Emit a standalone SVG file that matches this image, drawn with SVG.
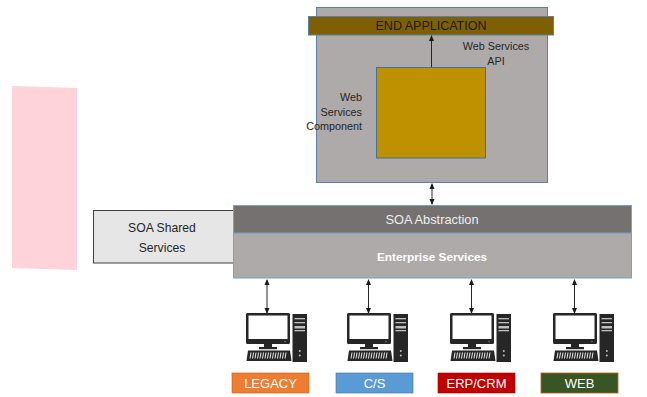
<svg xmlns="http://www.w3.org/2000/svg" xmlns:xlink="http://www.w3.org/1999/xlink" width="647" height="397" viewBox="0 0 647 397">
<style>
text{font-family:"Liberation Sans",Arial,sans-serif}
.conn{stroke:#262626;stroke-width:1;fill:none}
.lbl{fill:#fff;font-size:13px;text-anchor:middle}
.small{fill:#262626;font-size:10.8px}
</style>
<defs>
<marker id="ah" viewBox="0 0 6 6" refX="5" refY="3" markerWidth="6" markerHeight="6" orient="auto-start-reverse" markerUnits="userSpaceOnUse">
<path d="M0,0.5 L6,3 L0,5.5 Z" fill="#1a1a1a"/>
</marker>
<symbol id="pc" viewBox="-23 0 63 50" width="63" height="50" overflow="visible">
<rect x="-22" y="0" width="44" height="31" rx="1.5" fill="#262626"/>
<rect x="-19.5" y="2.5" width="39" height="23.5" fill="#fff"/>
<circle cx="17" cy="28.5" r="0.7" fill="#888"/>
<rect x="-4" y="31" width="8" height="4" fill="#262626"/>
<rect x="-9" y="34" width="18" height="2.2" fill="#262626"/>
<polygon points="-20,37.5 22,37.5 23.5,48 -21.5,48" fill="#262626"/>
<g stroke="#fff" stroke-width="0.9">
<path d="M-17,39.5 L-18,45.5 M-14.5,39.5 L-15.5,45.5 M-12,39.5 L-13,45.5 M-9.5,39.5 L-10.5,45.5 M-7,39.5 L-8,45.5 M-4.5,39.5 L-5.5,45.5 M-2,39.5 L-3,45.5 M0.5,39.5 L-0.5,45.5 M3,39.5 L2,45.5 M5.5,39.5 L4.5,45.5 M8,39.5 L7,45.5 M10.5,39.5 L9.5,45.5 M13,39.5 L12,45.5 M15.5,39.5 L14.5,45.5 M18,39.5 L17,45.5"/>
</g>
<rect x="24.5" y="1" width="14.5" height="48" fill="#262626"/>
<g fill="#bfbfbf">
<rect x="26.5" y="5" width="10.5" height="1.3"/>
<rect x="26.5" y="9" width="10.5" height="1.3"/>
<rect x="26.5" y="13" width="10.5" height="2.5"/>
<rect x="26.5" y="17" width="10.5" height="1.3"/>
<circle cx="31.8" cy="38" r="1"/>
<circle cx="31.8" cy="42.5" r="1"/>
</g>
</symbol>
</defs>

<polygon id="pink" points="12,86 77,88 77,270 12,268" fill="#ffd3d9"/>

<g id="app-container">
<rect x="316.5" y="7.5" width="231" height="175" fill="#aeaaaa" stroke="#5b7fa6" stroke-width="1"/>
</g>
<g id="end-application">
<rect x="308.5" y="16.5" width="245" height="18.5" fill="#7f6000" stroke="#5b7fa6" stroke-width="1"/>
<text x="431" y="30" font-size="12.5" fill="#1a1a1a" text-anchor="middle">END APPLICATION</text>
</g>
<g id="web-services-component">
<rect x="376.5" y="67.5" width="109" height="90.5" fill="#bf9000" stroke="#41719c" stroke-width="1"/>
<text class="small" text-anchor="end"><tspan x="362" y="101">Web</tspan><tspan x="362" y="115.5">Services</tspan><tspan x="362" y="130">Component</tspan></text>
</g>
<g id="web-services-api">
<text class="small" text-anchor="middle"><tspan x="496" y="50">Web Services</tspan><tspan x="496" y="64.5">API</tspan></text>
</g>

<g id="soa-shared-services">
<rect x="93.5" y="210.5" width="140" height="52.5" fill="#e7e6e6" stroke="#404040" stroke-width="1"/>
<text x="162" y="231.5" font-size="12.2" fill="#262626" text-anchor="middle">SOA Shared</text>
<text x="162" y="251.5" font-size="12.2" fill="#262626" text-anchor="middle">Services</text>
</g>
<g id="enterprise-services">
<rect x="233.5" y="233" width="398" height="45" fill="#aeaaaa" stroke="#7f9fc4" stroke-width="1"/>
<text x="432" y="260.5" font-size="11.8" font-weight="bold" fill="#fff" text-anchor="middle">Enterprise Services</text>
</g>
<g id="soa-abstraction">
<rect x="233.5" y="205.5" width="398" height="27.5" fill="#767171" stroke="#7f9fc4" stroke-width="1"/>
<text x="432" y="224" font-size="12.8" fill="#eeeeee" text-anchor="middle">SOA Abstraction</text>
</g>

<g id="legacy">
<use xlink:href="#pc" x="245" y="313" width="63" height="50"/>
<rect x="232" y="373" width="77" height="20" fill="#ed7d31" stroke="#c55a11" stroke-width="0.6"/>
<text class="lbl" x="270.5" y="388">LEGACY</text>
</g>
<g id="cs">
<use xlink:href="#pc" x="346" y="313" width="63" height="50"/>
<rect x="336" y="373" width="77" height="20" fill="#5b9bd5" stroke="#41719c" stroke-width="0.6"/>
<text class="lbl" x="374.5" y="388">C/S</text>
</g>
<g id="erp-crm">
<use xlink:href="#pc" x="449" y="313" width="63" height="50"/>
<rect x="438" y="373" width="77" height="20" fill="#c00000" stroke="#a00000" stroke-width="0.6"/>
<text class="lbl" x="476.5" y="388">ERP/CRM</text>
</g>
<g id="web">
<use xlink:href="#pc" x="552" y="313" width="63" height="50"/>
<rect x="541" y="373" width="77" height="20" fill="#375623" stroke="#c55a11" stroke-width="0.8"/>
<text class="lbl" x="579.5" y="388">WEB</text>
</g>

<g id="connectors">
<line class="conn" x1="431.5" y1="67" x2="431.5" y2="36" marker-end="url(#ah)"/>
<line class="conn" x1="432" y1="184" x2="432" y2="204" marker-start="url(#ah)" marker-end="url(#ah)"/>
<line class="conn" x1="267" y1="280" x2="267" y2="313" marker-start="url(#ah)" marker-end="url(#ah)"/>
<line class="conn" x1="368.5" y1="280" x2="368.5" y2="313" marker-start="url(#ah)" marker-end="url(#ah)"/>
<line class="conn" x1="471.5" y1="280" x2="471.5" y2="313" marker-start="url(#ah)" marker-end="url(#ah)"/>
<line class="conn" x1="574.5" y1="280" x2="574.5" y2="313" marker-start="url(#ah)" marker-end="url(#ah)"/>
</g>
</svg>
